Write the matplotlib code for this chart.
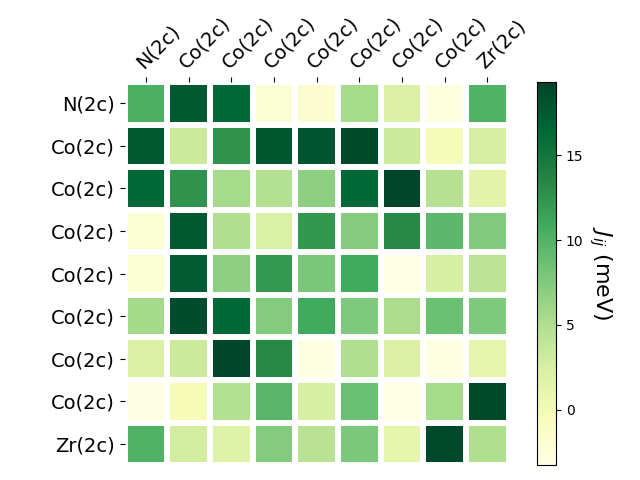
import numpy as np
import matplotlib
matplotlib.use("Agg")
import matplotlib.pyplot as plt

labels = ["N(2c)", "Co(2c)", "Co(2c)", "Co(2c)", "Co(2c)", "Co(2c)", "Co(2c)", "Co(2c)", "Zr(2c)"]

row0 = [10.3, 17.7, 16.4, -2.0, -1.8, 5.5, 2.2, -2.8, 10.0]
row1 = [17.7, 3.3, 12.6, 17.8, 17.9, 18.8, 3.3, -0.2, 2.7]
row2 = [16.4, 12.6, 5.5, 4.8, 6.9, 16.5, 19.3, 4.6, 1.5]
row3 = [-2.0, 17.7, 5.0, 2.3, 12.2, 7.3, 13.3, 9.5, 7.5]
row4 = [-2.0, 17.5, 6.9, 12.1, 7.9, 10.9, -3.1, 2.6, 4.3]
row5 = [5.6, 18.7, 16.4, 7.4, 10.9, 7.7, 5.2, 8.8, 7.7]
row6 = [2.1, 3.3, 19.3, 13.3, -2.9, 5.0, 2.1, -2.9, 1.3]
row7 = [-3.0, -0.3, 4.8, 9.6, 2.6, 8.8, -3.1, 5.5, 19.0]
row8 = [10.1, 2.8, 1.8, 7.4, 4.5, 7.8, 1.3, 19.0, 5.0]

data = np.array([row0, row1, row2, row3, row4, row5, row6, row7, row8])
vmin, vmax = -3.25, 19.3

fig = plt.figure(figsize=(6.4, 4.8), dpi=100)
ax = fig.add_axes([0.195, 0.031, 0.6, 0.798])
cax = fig.add_axes([0.839, 0.031, 0.030, 0.798])

mesh = ax.pcolormesh(data, cmap="YlGn", vmin=vmin, vmax=vmax,
                     edgecolors="white", linewidth=3)
ax.set_xlim(0, 9)
ax.set_ylim(9, 0)
ax.xaxis.tick_top()
ax.set_xticks(np.arange(9) + 0.5)
ax.set_yticks(np.arange(9) + 0.5)
ax.set_xticklabels(labels, rotation=45, ha="left", rotation_mode="anchor", fontsize=14)
ax.set_yticklabels(labels, fontsize=14)
for s in ax.spines.values():
    s.set_visible(False)

cb = fig.colorbar(mesh, cax=cax)
cb.set_ticks([0, 5, 10, 15])
cb.ax.tick_params(labelsize=10)
cb.set_label(r"$J_{ij}$ (meV)", rotation=270, fontsize=16, labelpad=22)

fig.savefig("out.png", dpi=100)
